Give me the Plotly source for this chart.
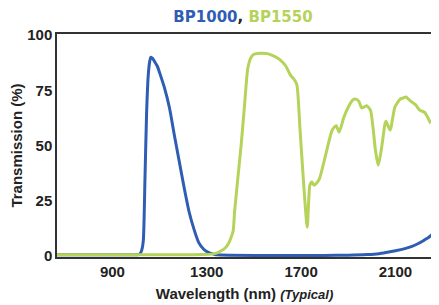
import plotly.graph_objects as go

# BP1000 (blue) transmission
bp1000_nm = [665, 900, 1000, 1010, 1017, 1024, 1031, 1038, 1045, 1052, 1058, 1063, 1070, 1079, 1090,
             1100, 1121, 1142, 1162, 1183, 1204, 1225, 1246, 1266, 1287, 1300, 1314, 1330, 1342,
             1400, 1600, 1800, 1900, 1980, 2030, 2060, 2100, 2140, 2170, 2195, 2220, 2240, 2255]
bp1000_t = [0.5, 0.5, 0.5, 0.6, 1.0, 2.5, 7, 35, 65, 82, 88, 90, 89.5, 88, 86,
            83, 76, 67, 55, 43, 31, 20, 12, 6, 3, 2, 1.3, 0.8, 0.5,
            0.3, 0.2, 0.2, 0.3, 0.6, 1.0, 1.5, 2.3, 3.3, 4.3, 5.5, 7.0, 8.3, 9.6]

# BP1550 (green) transmission
bp1550_nm = [665, 1000, 1200, 1280, 1321, 1345, 1363, 1380, 1391, 1402, 1412, 1418, 1432, 1446, 1460,
             1474, 1488, 1500, 1515, 1535, 1557, 1585, 1612, 1635, 1654, 1670, 1682, 1695, 1709,
             1726, 1737, 1745, 1755, 1766, 1778, 1807, 1832, 1849, 1861, 1882, 1903, 1918, 1932,
             1945, 1957, 1968, 1978, 1994, 2015, 2027, 2040, 2056, 2060, 2077, 2081, 2098, 2120,
             2132, 2145, 2155, 2166, 2185, 2203, 2214, 2224, 2238, 2250]
bp1550_t = [0.5, 0.5, 0.5, 0.6, 0.8, 1.4, 2.4, 3.8, 5.4, 8, 11.4, 20, 35.5, 50.5, 68,
            85, 90, 91.3, 91.7, 91.8, 91.6, 90.5, 88.7, 86, 82, 80, 77.5, 58, 35.5,
            13, 32, 33.5, 32, 33, 35, 47, 57, 59, 56, 63, 68, 70.5, 71,
            70, 67, 67.5, 68, 66, 48, 41, 48, 60, 61, 57, 58, 67.5, 71,
            71.5, 72, 71, 70, 68.5, 66, 65.5, 65, 62.5, 60]

x_ticks = [900, 1300, 1700, 2100]
y_ticks = [0, 25, 50, 75, 100]

BLUE = "#2F5DB3"
GREEN = "#B5D35B"
FONT = "Liberation Sans, Arial, sans-serif"

# page body has an 8px margin; the figure is sized to fill the rest of the window
W, H, OFF = 431, 297, 8

fig = go.Figure()
fig.add_trace(go.Scatter(x=bp1000_nm, y=bp1000_t, mode="lines", name="BP1000",
                         line=dict(color=BLUE, width=3, shape="spline", smoothing=0.6)))
fig.add_trace(go.Scatter(x=bp1550_nm, y=bp1550_t, mode="lines", name="BP1550",
                         line=dict(color=GREEN, width=3, shape="spline", smoothing=0.6)))

fig.update_layout(
    width=W, height=H,
    margin=dict(l=52 - OFF, r=5, t=34 - OFF, b=47, pad=0),
    paper_bgcolor="white", plot_bgcolor="white",
    showlegend=False,
    font=dict(family=FONT, color="#222222"),
    title=dict(
        text=f"<b><span style='color:{BLUE}'>BP1000</span>, <span style='color:{GREEN}'>BP1550</span></b>",
        font=dict(family="DejaVu Sans, sans-serif", size=15, color="#222222"),
        x=((52 + 434) / 2 - OFF) / W, xanchor="center", y=1 - (17 - OFF) / H, yanchor="middle",
    ),
    xaxis=dict(
        range=[665, 2255], tickvals=x_ticks, ticktext=[f"<b>{v}</b>" for v in x_ticks],
        showgrid=False, zeroline=False, showline=True, mirror=True,
        linecolor="#333333", linewidth=1.5, ticks="",
        tickfont=dict(size=15, family=FONT, color="#222222"),
        title=dict(text="<b>Wavelength (nm)</b> <b><i><span style='font-size:13px'>(Typical)</span></i></b>",
                   font=dict(size=15, family=FONT, color="#222222"),
                   standoff=10),
    ),
    yaxis=dict(
        range=[-0.5, 100.5], tickvals=y_ticks, ticktext=[f"<b>{v}</b>" for v in y_ticks],
        showgrid=False, zeroline=False, showline=True, mirror=True,
        linecolor="#333333", linewidth=1.5, ticks="",
        tickfont=dict(size=15, family=FONT, color="#222222"),
        title=dict(text="<b>Transmission (%)</b>",
                   font=dict(size=15, family=FONT, color="#222222"),
                   standoff=4),
    ),
)

fig.write_html("out.html")
